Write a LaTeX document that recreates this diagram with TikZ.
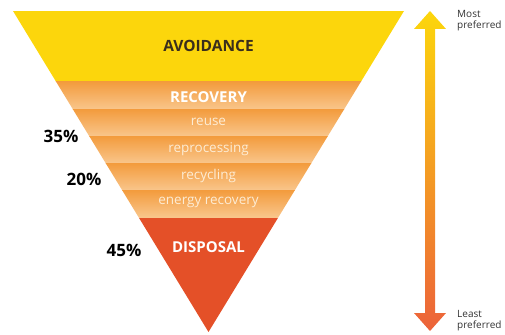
\documentclass[tikz,border=0pt]{standalone}
\usepackage{fontspec}
\setmainfont{Open Sans}
\definecolor{avoidyel}{RGB}{252,214,12}
\definecolor{bandtop}{RGB}{243,156,62}
\definecolor{bandbot}{RGB}{249,198,140}
\definecolor{disred}{RGB}{228,80,40}
\definecolor{arrowmid}{RGB}{245,160,60}
\definecolor{arrowbot}{RGB}{236,98,58}
\definecolor{avoidtxt}{RGB}{58,46,28}
\definecolor{subtxt}{RGB}{253,236,212}

\begin{document}
\begin{tikzpicture}[x=1pt,y=-1pt, line join=round,
	tier/.style={text=white, font=\bfseries\fontsize{15}{15}\selectfont},
	sublvl/.style={text=subtxt, font=\fontsize{13.5}{14}\selectfont},
	pct/.style={font=\bfseries\fontsize{17}{17}\selectfont},
	pref/.style={anchor=west, align=left, text=black!80, inner sep=0pt, font=\fontsize{10}{11}\selectfont}]
	\useasboundingbox (0,0) rectangle (505,334);
	\def \xl{13};
	\def \xr{404};
	\def \ytop{11};
	\def \xa{208.5};
	\def \ya{332};
	% funnel
	\begin{scope}
		\clip (\xl,\ytop) -- (\xr,\ytop) -- (\xa,\ya) -- cycle;
		\fill[avoidyel] (0,\ytop) rectangle (505,82);
		\foreach \t/\b in {82/109.5,109.5/136.5,136.5/163.5,163.5/190.5,190.5/217.5}{\shade[top color=bandtop,bottom color=bandbot] (0,\t) rectangle (505,\b);}
		\fill[disred] (0,217.5) rectangle (505,\ya);
	\end{scope}
	\node[font=\bfseries\fontsize{15.5}{15.5}\selectfont, text=avoidtxt] (avoid) at (\xa,46) {AVOIDANCE};
	\node[tier] (recov) at (\xa,97) {RECOVERY};
	\node[sublvl] (reuse) at (\xa,122) {reuse};
	\node[sublvl] (reproc) at (\xa,149) {reprocessing};
	\node[sublvl] (recyc) at (\xa,176) {recycling};
	\node[sublvl] (energy) at (\xa,202) {energy recovery};
	\node[tier] (disp) at (\xa,247) {DISPOSAL};
	\foreach \x/\y/\l/\n in {61/136/35/p35,84/179/20/p20,124/250/45/p45}{\node[pct] (\n) at (\x,\y) {\l\%};}
	% preference arrow
	\shade[top color=avoidyel, middle color=arrowmid, bottom color=arrowbot]
		(430,11) -- (446,29) -- (435,29) -- (435,313) -- (446,313) -- (430,331) -- (414,313) -- (425,313) -- (425,29) -- (414,29) -- cycle;
	\node[pref] (most) at (457,21) {Most\\preferred};
	\node[pref] (least) at (457,321) {Least\\preferred};
\end{tikzpicture}
\end{document}
